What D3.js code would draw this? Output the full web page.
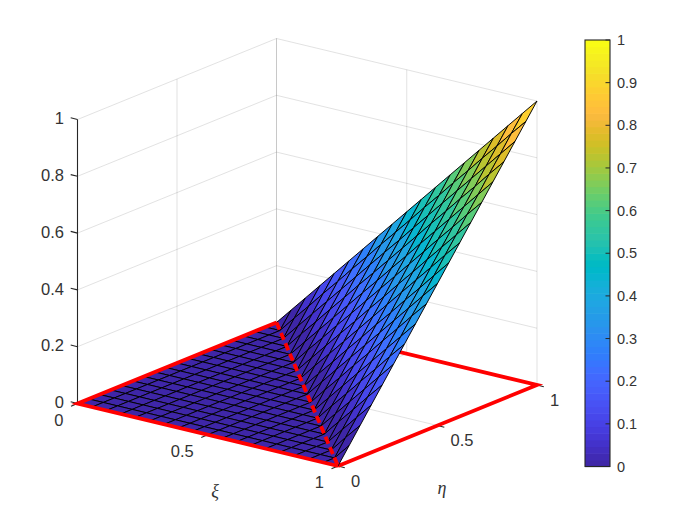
<!DOCTYPE html>
<html><head><meta charset="utf-8">
<script src="https://cdn.jsdelivr.net/npm/d3@7"></script>
<style>html,body{margin:0;background:#fff}svg{display:block}text{font-family:"Liberation Sans",Arial,sans-serif;fill:#333}</style>
</head><body><svg id="c" width="700" height="525"></svg>
<script>
const xiGrid=[0,.056,.111,.167,.222,.278,.333,.389,.444,.5,.556,.611,.667,.722,.778,.833,.889,.944,1];
const etaGrid=[0,.056,.111,.167,.222,.278,.333,.389,.444,.5,.556,.611,.667,.722,.778,.833,.889,.944,1];
const zRows=[
[0,0,0,0,0,0,0,0,0,0,0,0,0,0,0,0,0,0,0],
[0,0,0,0,0,0,0,0,0,0,0,0,0,0,0,0,0,0,.056],
[0,0,0,0,0,0,0,0,0,0,0,0,0,0,0,0,0,.056,.111],
[0,0,0,0,0,0,0,0,0,0,0,0,0,0,0,0,.056,.111,.167],
[0,0,0,0,0,0,0,0,0,0,0,0,0,0,0,.056,.111,.167,.222],
[0,0,0,0,0,0,0,0,0,0,0,0,0,0,.056,.111,.167,.222,.278],
[0,0,0,0,0,0,0,0,0,0,0,0,0,.056,.111,.167,.222,.278,.333],
[0,0,0,0,0,0,0,0,0,0,0,0,.056,.111,.167,.222,.278,.333,.389],
[0,0,0,0,0,0,0,0,0,0,0,.056,.111,.167,.222,.278,.333,.389,.444],
[0,0,0,0,0,0,0,0,0,0,.056,.111,.167,.222,.278,.333,.389,.444,.5],
[0,0,0,0,0,0,0,0,0,.056,.111,.167,.222,.278,.333,.389,.444,.5,.556],
[0,0,0,0,0,0,0,0,.056,.111,.167,.222,.278,.333,.389,.444,.5,.556,.611],
[0,0,0,0,0,0,0,.056,.111,.167,.222,.278,.333,.389,.444,.5,.556,.611,.667],
[0,0,0,0,0,0,.056,.111,.167,.222,.278,.333,.389,.444,.5,.556,.611,.667,.722],
[0,0,0,0,0,.056,.111,.167,.222,.278,.333,.389,.444,.5,.556,.611,.667,.722,.778],
[0,0,0,0,.056,.111,.167,.222,.278,.333,.389,.444,.5,.556,.611,.667,.722,.778,.833],
[0,0,0,.056,.111,.167,.222,.278,.333,.389,.444,.5,.556,.611,.667,.722,.778,.833,.889],
[0,0,.056,.111,.167,.222,.278,.333,.389,.444,.5,.556,.611,.667,.722,.778,.833,.889,.944],
[0,.056,.111,.167,.222,.278,.333,.389,.444,.5,.556,.611,.667,.722,.778,.833,.889,.944,1]];
const xiTicks=[0,0.5,1], etaTicks=[0,0.5,1], zTicks=[0,0.2,0.4,0.6,0.8,1];
const cbTicks=[0,0.1,0.2,0.3,0.4,0.5,0.6,0.7,0.8,0.9,1];
const squareBack=[[0,1],[1,1],[1,0]];
const squareFront=[[1,0],[0,0],[0,1]];
const diagonal=[[0,1],[1,0]];
const parula=[[.2422,.1504,.6603],[.2504,.165,.7076],[.2578,.1818,.7511],[.2647,.1978,.7952],[.2706,.2147,.8364],[.2751,.2342,.871],[.2783,.2559,.8991],[.2803,.2782,.9221],[.2813,.3006,.9414],[.281,.3228,.9579],[.2795,.3447,.9717],[.276,.3667,.9829],[.2699,.3892,.9906],[.2602,.4123,.9952],[.244,.4358,.9988],[.2206,.4603,.9973],[.1963,.4847,.9892],[.1834,.5074,.9798],[.1786,.5289,.9682],[.1764,.5499,.952],[.1687,.5703,.9359],[.154,.5902,.9218],[.146,.6091,.9079],[.138,.6276,.8973],[.1248,.6459,.8883],[.1113,.6635,.8763],[.0952,.6798,.8598],[.0689,.6948,.8394],[.0297,.7082,.8163],[.0036,.7203,.7917],[.0067,.7312,.766],[.0433,.7411,.7394],[.0964,.75,.712],[.1408,.7584,.6842],[.1717,.767,.6554],[.1938,.7758,.6251],[.2161,.7843,.5923],[.247,.7918,.5567],[.2906,.7973,.5188],[.3406,.8008,.4789],[.3909,.8029,.4354],[.4456,.8024,.3909],[.5044,.7993,.348],[.5616,.7942,.3045],[.6174,.7876,.2612],[.672,.7793,.2227],[.7242,.7698,.191],[.7738,.7598,.1646],[.8203,.7498,.1535],[.8634,.7406,.1596],[.9035,.733,.1774],[.9393,.7288,.21],[.9728,.7298,.2394],[.9956,.7434,.2371],[.997,.7659,.2199],[.9952,.7893,.2028],[.9892,.8136,.1885],[.9786,.8386,.1766],[.9676,.8639,.1643],[.961,.889,.1537],[.9597,.9135,.1423],[.9628,.9373,.1265],[.9691,.9606,.1064],[.9769,.9839,.0805]]
 .map(c=>d3.rgb(c[0]*255,c[1]*255,c[2]*255).formatRgb());

const color=d3.scaleQuantize().domain([0,1]).range(parula);
// oblique projection, expressed as linear scales per data axis
const xiX=d3.scaleLinear([0,1],[0,260.5]), xiY=d3.scaleLinear([0,1],[0,62.5]);
const etaX=d3.scaleLinear([0,1],[0,199]), etaY=d3.scaleLinear([0,1],[0,-81]);
const zY=d3.scaleLinear([0,1],[0,-284]);
const px=(a,b)=>77.5+xiX(a)+etaX(b), py=(a,b,c=0)=>403.5+xiY(a)+etaY(b)+zY(c);
const P=(a,b,c=0)=>[px(a,b),py(a,b,c)];
const line=d3.line();
const svg=d3.select("#c");
const GRID="#262626";

function seg(g,p,q,stroke,w,op=1){g.append("line").attr("x1",p[0]).attr("y1",p[1]).attr("x2",q[0]).attr("y2",q[1]).attr("stroke",stroke).attr("stroke-width",w).attr("stroke-opacity",op);}
const g=svg.append("g");
// grid
const go=0.15;
zTicks.forEach(z=>{seg(g,P(0,0,z),P(0,1,z),GRID,.9,go);seg(g,P(0,1,z),P(1,1,z),GRID,.9,go);});
etaTicks.forEach(e=>{seg(g,P(0,e,0),P(0,e,1),GRID,.9,go);seg(g,P(0,e,0),P(1,e,0),GRID,.9,go);});
xiTicks.forEach(x=>{seg(g,P(x,1,0),P(x,1,1),GRID,.9,go);seg(g,P(x,0,0),P(x,1,0),GRID,.9,go);});
// axes
seg(g,P(0,0,0),P(0,0,1),GRID,1.1);
seg(g,P(0,0,0),P(1,0,0),GRID,1.1);
seg(g,P(1,0,0),P(1,1,0),GRID,1.1);
const xn=[-6.8,-1.7], en=[-6.5,2.7], zn=[6.8,1.7];
zTicks.forEach(z=>{const p=P(0,0,z);seg(g,p,[p[0]+xn[0],p[1]+xn[1]],GRID,1.1);
  g.append("text").attr("x",64).attr("y",p[1]-1).attr("dy","0.35em").attr("text-anchor","end").attr("font-size",16.5).text(z);});
xiTicks.forEach(x=>{const p=P(x,0,0);seg(g,p,[p[0]+en[0],p[1]+en[1]],GRID,1.1);
  g.append("text").attr("x",p[0]-14).attr("y",p[1]+16.5).attr("dy","0.35em").attr("text-anchor","end").attr("font-size",16.5).text(x);});
etaTicks.forEach(e=>{const p=P(1,e,0);seg(g,p,[p[0]+zn[0],p[1]+zn[1]],GRID,1.1);
  g.append("text").attr("x",p[0]+13).attr("y",p[1]+15).attr("dy","0.35em").attr("text-anchor","start").attr("font-size",16.5).text(e);});
g.append("text").attr("x",215).attr("y",497).attr("text-anchor","middle").style("font-family","'Liberation Serif',serif").style("font-style","italic").attr("font-size",18).text("ξ");
g.append("text").attr("x",442).attr("y",494).attr("text-anchor","middle").style("font-family","'Liberation Serif',serif").style("font-style","italic").attr("font-size",18).text("η");

const RED="#ff0000", RW=3.8;
const redPath=(pts,dash)=>{const s=svg.append("path").attr("d",line(pts.map(d=>P(d[0],d[1],0)))).attr("fill","none").attr("stroke",RED).attr("stroke-width",RW).attr("stroke-linejoin","miter");if(dash)s.attr("stroke-dasharray",dash);};
redPath(squareBack);
// surface, far to near
const surf=svg.append("g");
for(let j=etaGrid.length-2;j>=0;j--)for(let i=0;i<xiGrid.length-1;i++){
  const c=[[i,j],[i+1,j],[i+1,j+1],[i,j+1]].map(([a,b])=>P(xiGrid[a],etaGrid[b],zRows[b][a]));
  surf.append("path").attr("d",line(c)+"Z").attr("fill",color(zRows[j][i])).attr("stroke","#000").attr("stroke-width",.95).attr("stroke-linejoin","round");
}
redPath(squareFront);
redPath(diagonal,"7.5 3.8");

// colorbar
const cbY=d3.scaleLinear([0,1],[466.5,40]);
const cb=svg.append("g");
const band=(cbY(0)-cbY(1))/parula.length;
parula.forEach((c,i)=>cb.append("rect").attr("x",585).attr("width",25).attr("y",cbY((i+1)/parula.length)).attr("height",band+.6).attr("fill",c));
cb.append("rect").attr("x",585).attr("y",40).attr("width",25).attr("height",426.5).attr("fill","none").attr("stroke",GRID).attr("stroke-width",1.1);
cbTicks.forEach(t=>{seg(cb,[605.5,cbY(t)],[610,cbY(t)],GRID,1);
 cb.append("text").attr("x",617).attr("y",cbY(t)).attr("dy","0.35em").attr("font-size",14.5).text(t);});
</script></body></html>
